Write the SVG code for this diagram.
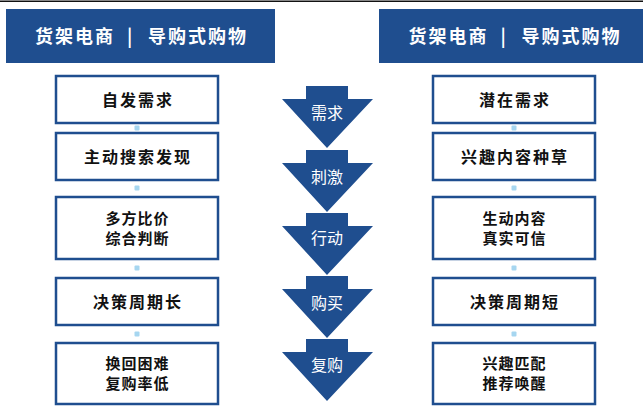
<svg xmlns="http://www.w3.org/2000/svg" width="643" height="408" viewBox="0 0 643 408">
<style>
.hdr{fill:#1F4E8F}
.hdrt{fill:#fff;font-family:"Noto Sans CJK SC",sans-serif;font-size:18px;font-weight:700;letter-spacing:2px}
.box{fill:#fff;stroke:#1F4E8F;stroke-width:2.5}
.bt{fill:#111;font-family:"Noto Sans CJK SC",sans-serif;font-weight:700;text-anchor:middle}
.s1{font-size:16px;letter-spacing:2px}
.s2{font-size:15px;letter-spacing:1px}
.arr{fill:#1F4E8F}
.at{fill:#fff;font-family:"Noto Sans CJK SC",sans-serif;font-size:16px;text-anchor:middle}
.dot{fill:#A6D6F0}
</style>
<rect width="643" height="408" fill="#fff"/>
<line x1="0" y1="1.2" x2="643" y2="1.2" stroke="#111" stroke-width="1.6"/>

<g id="header-left">
<rect class="hdr" x="6" y="9" width="269" height="54"/>
<text class="hdrt" y="42.5"><tspan x="35">货架电商</tspan><tspan x="127">|</tspan><tspan x="148">导购式购物</tspan></text>
</g>
<g id="header-right">
<rect class="hdr" x="379" y="9" width="264" height="54"/>
<text class="hdrt" y="42.5"><tspan x="408.5">货架电商</tspan><tspan x="500.5">|</tspan><tspan x="521.5">导购式购物</tspan></text>
</g>

<g id="connectors">
<rect class="dot" x="134.5" y="125.5" width="5" height="5" rx="1"/>
<rect class="dot" x="134.5" y="185.5" width="5" height="5" rx="1"/>
<rect class="dot" x="134.5" y="265.5" width="5" height="5" rx="1"/>
<rect class="dot" x="134.5" y="331.5" width="5" height="5" rx="1"/>
<rect class="dot" x="511.5" y="125.5" width="5" height="5" rx="1"/>
<rect class="dot" x="511.5" y="185.5" width="5" height="5" rx="1"/>
<rect class="dot" x="511.5" y="265.5" width="5" height="5" rx="1"/>
<rect class="dot" x="511.5" y="331.5" width="5" height="5" rx="1"/>
</g>

<g id="left-1"><rect class="box" x="56" y="76" width="162" height="47"/><text class="bt s1" x="138" y="106">自发需求</text></g>
<g id="left-2"><rect class="box" x="56" y="133" width="162" height="47"/><text class="bt s1" x="138" y="163">主动搜索发现</text></g>
<g id="left-3"><rect class="box" x="56" y="197" width="162" height="62"/><text class="bt s2" x="137.5" y="223.5">多方比价</text><text class="bt s2" x="137.5" y="243.5">综合判断</text></g>
<g id="left-4"><rect class="box" x="56" y="278" width="162" height="47"/><text class="bt s1" x="138" y="308">决策周期长</text></g>
<g id="left-5"><rect class="box" x="56" y="343" width="162" height="61"/><text class="bt s2" x="137.5" y="368.5">换回困难</text><text class="bt s2" x="137.5" y="388.5">复购率低</text></g>

<g id="right-1"><rect class="box" x="433" y="76" width="162" height="47"/><text class="bt s1" x="515" y="106">潜在需求</text></g>
<g id="right-2"><rect class="box" x="433" y="133" width="162" height="47"/><text class="bt s1" x="515" y="163">兴趣内容种草</text></g>
<g id="right-3"><rect class="box" x="433" y="197" width="162" height="62"/><text class="bt s2" x="514.5" y="223.5">生动内容</text><text class="bt s2" x="514.5" y="243.5">真实可信</text></g>
<g id="right-4"><rect class="box" x="433" y="278" width="162" height="47"/><text class="bt s1" x="515" y="308">决策周期短</text></g>
<g id="right-5"><rect class="box" x="433" y="343" width="162" height="61"/><text class="bt s2" x="514.5" y="368.5">兴趣匹配</text><text class="bt s2" x="514.5" y="388.5">推荐唤醒</text></g>

<g id="step-1"><polygon class="arr" points="306,86 348,86 348,99 373,99 327,148 282,99 306,99"/><text class="at" x="327" y="119">需求</text></g>
<g id="step-2"><polygon class="arr" points="306,150 348,150 348,163 373,163 327,212 282,163 306,163"/><text class="at" x="327" y="183">刺激</text></g>
<g id="step-3"><polygon class="arr" points="306,213 348,213 348,226 373,226 327,275 282,226 306,226"/><text class="at" x="327" y="244">行动</text></g>
<g id="step-4"><polygon class="arr" points="306,276 348,276 348,289 373,289 327,338 282,289 306,289"/><text class="at" x="327" y="309">购买</text></g>
<g id="step-5"><polygon class="arr" points="306,339 348,339 348,352 373,352 327,401 282,352 306,352"/><text class="at" x="327" y="371">复购</text></g>
</svg>
